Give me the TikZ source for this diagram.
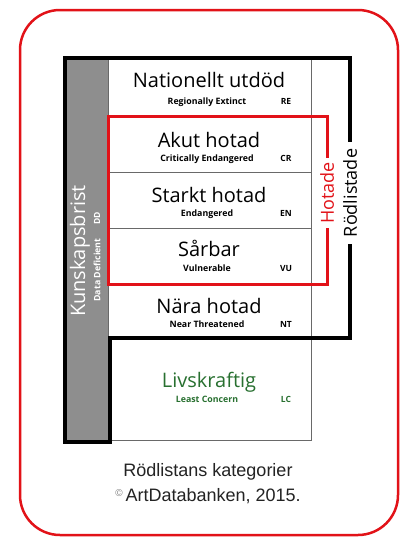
\documentclass[tikz,border=0pt]{standalone}
\usepackage{fontspec}
\setmainfont{Open Sans}
\newfontfamily\capfont{Liberation Sans}
\usepackage{xcolor}
\usepackage{tikz}

\definecolor{rlred}{RGB}{226,18,24}
\definecolor{rlgreen}{RGB}{40,112,48}
\definecolor{barfill}{RGB}{142,142,142}
\definecolor{linegray}{RGB}{105,105,105}
\definecolor{captext}{RGB}{35,35,35}

\begin{document}
\begin{tikzpicture}
		[x=1pt,y=-1pt,
		rowmain/.style={anchor=base,inner sep=0pt,font=\fontsize{20}{24}\selectfont},
		rowsub/.style={anchor=base,inner sep=0pt,font=\bfseries\fontsize{8.8}{12}\selectfont},
		rowcode/.style={anchor=base,inner sep=0pt,font=\bfseries\fontsize{8.5}{12}\selectfont},
		sidelbl/.style={rotate=90,inner xsep=7pt,inner ysep=0pt,font=\fontsize{18}{20}\selectfont},
		barlbl/.style={rotate=90,inner sep=0pt,white},
		captext/.style={anchor=base,inner sep=0pt,text=captext,font=\capfont\fontsize{18}{22}\selectfont},
		thinline/.style={draw=linegray,line width=1pt},
		blackframe/.style={draw=black,line width=4pt,line join=miter},
		redframe/.style={draw=rlred,line width=3pt,line join=miter}]
		\useasboundingbox (0,0) rectangle (406,538);
		\fill[white] (0,0) rectangle (406,538);
		% gray bar and grid
		\fill[barfill] (65,58) rectangle (108,442);
		\draw[thinline] (108,58) rectangle (311,440);
		\foreach \y in {116,172,228,283,338}
			\draw[thinline] (108,\y) -- (311,\y);
		% side labels
		\node at (350, 193) (rodl) [sidelbl] {Rödlistade};
		\node at (327, 193) (hot) [sidelbl,inner xsep=4pt,text=rlred] {Hotade};
		\draw[blackframe] (rodl.east) -- (350,58) -- (65,58) -- (65,442) -- (110,442)
			-- (110,338) -- (350,338) -- (rodl.west);
		\draw[redframe] (hot.east) -- (327,116) -- (108,116) -- (108,284) -- (327,284)
			-- (hot.west);
		\node at (80, 251) (ddmain) [barlbl,font=\fontsize{20}{24}\selectfont] {Kunskapsbrist};
		\node at (97, 270) (ddsub) [barlbl,font=\bfseries\fontsize{8.8}{12}\selectfont] {Data Deficient};
		\node at (97, 218) (ddcode) [barlbl,font=\bfseries\fontsize{8.5}{12}\selectfont] {DD};
		% categories
		\node at (209, 87) (re) [rowmain] {Nationellt utdöd};
		\node at (207, 104) (resub) [rowsub] {Regionally Extinct};
		\node at (286, 104) (recode) [rowcode] {RE};
		\node at (209, 147) (cr) [rowmain] {Akut hotad};
		\node at (207, 161) (crsub) [rowsub] {Critically Endangered};
		\node at (286, 161) (crcode) [rowcode] {CR};
		\node at (209, 202) (en) [rowmain] {Starkt hotad};
		\node at (207, 216) (ensub) [rowsub] {Endangered};
		\node at (286, 216) (encode) [rowcode] {EN};
		\node at (209, 256) (vu) [rowmain] {Sårbar};
		\node at (207, 271) (vusub) [rowsub] {Vulnerable};
		\node at (286, 271) (vucode) [rowcode] {VU};
		\node at (209, 313) (nt) [rowmain] {Nära hotad};
		\node at (207, 327) (ntsub) [rowsub] {Near Threatened};
		\node at (286, 327) (ntcode) [rowcode] {NT};
		\node at (209, 387) (lc) [rowmain,text=rlgreen] {Livskraftig};
		\node at (207, 402) (lcsub) [rowsub,text=rlgreen] {Least Concern};
		\node at (286, 402) (lccode) [rowcode,text=rlgreen] {LC};
		% caption
		\node at (208, 476) (cap1) [captext] {Rödlistans kategorier};
		\node at (208, 501) (cap2) [captext]
			{{\color{gray}\fontsize{10}{10}\selectfont\raisebox{5pt}{©}}\,ArtDatabanken, 2015.};
		\draw[rlred,line width=2.5pt,rounded corners=40pt] (20,10) rectangle (398,535);
	\end{tikzpicture}
\end{document}
